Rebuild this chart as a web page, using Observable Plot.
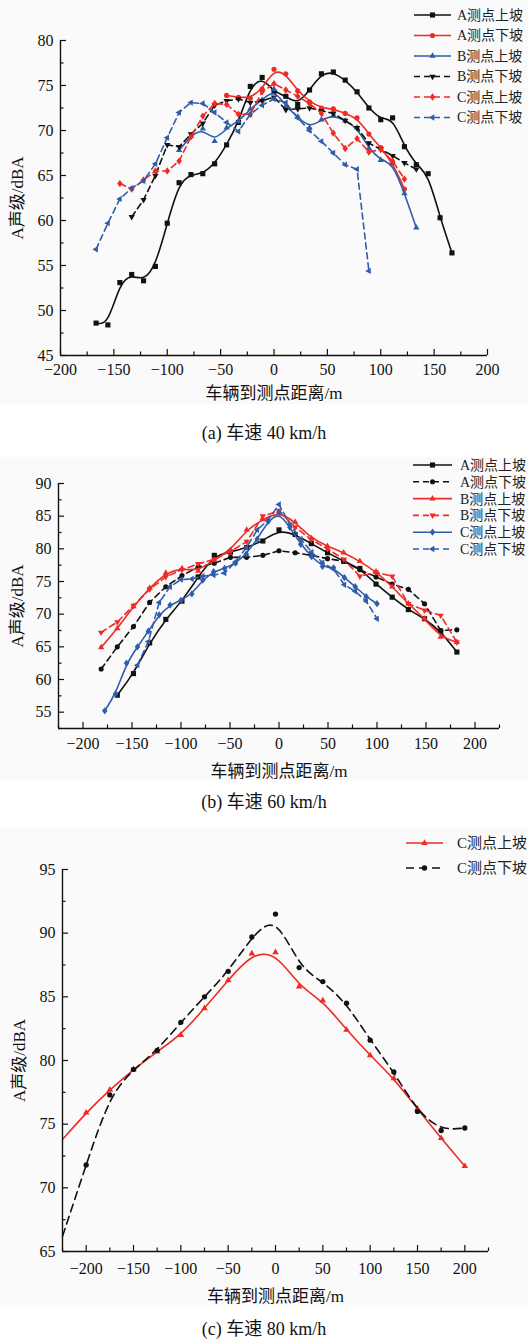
<!DOCTYPE html>
<html><head><meta charset="utf-8">
<script src="https://cdn.jsdelivr.net/npm/d3@7"></script>
<script src="https://cdn.jsdelivr.net/npm/@observablehq/plot@0.6"></script>
<style>
body{margin:0;background:#fff;}
#root{position:relative;width:528px;height:1344px;overflow:hidden;font-family:"Liberation Serif","Noto Sans CJK SC",serif;}
.panel{position:absolute;left:0;}
.cap{position:absolute;left:0;width:528px;text-align:center;font-size:18px;color:#111;line-height:1;}
.leg{position:absolute;left:0;top:0;}
</style></head><body><div id="root"></div>
<script>
// ---------- data: panel (a) 车速 40 km/h ----------
const a_AUp_x = [-166.7,-155.6,-144.4,-133.3,-122.2,-111.1,-100,-88.9,-77.8,-66.7,-55.6,-44.4,-33.3,-22.2,-11.1,0,11.1,22.2,33.3,44.4,55.6,66.7,77.8,88.9,100,111.1,122.2,133.3,144.4,155.6,166.7];
const a_AUp_y = [48.6,48.4,53.1,54.0,53.3,54.9,59.7,64.2,65.1,65.2,66.3,68.4,70.9,74.9,75.9,74.3,73.8,72.9,74.5,76.3,76.5,75.6,74.3,72.5,71.2,71.4,68.2,66.2,65.2,60.3,56.4];
const a_ADn_x = [-44.4,-33.3,-22.2,-11.1,0,11.1,22.2,33.3,44.4,55.6,66.7,77.8,88.9,100,111.1,122.2];
const a_ADn_y = [73.9,73.7,73.6,74.6,76.8,76.3,74.4,73.2,72.5,72.4,71.9,71.4,69.6,68.1,66.4,63.5];
const a_BUp_x = [-88.9,-77.8,-66.7,-55.6,-44.4,-33.3,-22.2,-11.1,0,11.1,22.2,33.3,44.4,55.6,66.7,77.8,88.9,100,111.1,122.2,133.3];
const a_BUp_y = [67.8,69.4,70.2,68.8,70.3,71.0,72.4,73.4,74.6,72.7,71.5,70.3,71.2,71.7,71.1,70.3,68.0,66.7,66.4,63.0,59.2];
const a_BDn_x = [-133.3,-122.2,-111.1,-100,-88.9,-77.8,-66.7,-55.6,-44.4,-33.3,-22.2,-11.1,0,11.1,22.2,33.3,44.4,55.6,66.7,77.8,88.9,100,111.1,122.2,133.3];
const a_BDn_y = [60.4,62.3,65.0,68.4,68.2,69.6,70.8,72.8,73.3,73.5,73.1,73.3,73.7,72.3,72.4,72.5,72.2,71.9,71.1,70.3,68.6,67.9,67.2,66.4,65.7];
const a_CUp_x = [-144.4,-133.3,-122.2,-111.1,-100,-88.9,-77.8,-66.7,-55.6,-44.4,-33.3,-22.2,-11.1,0,11.1,22.2,33.3,44.4,55.6,66.7,77.8,88.9,100,111.1,122.2];
const a_CUp_y = [64.1,63.5,64.5,65.5,65.5,66.6,69.3,71.6,73.0,72.9,71.8,71.8,74.3,75.2,74.5,73.8,73.0,71.9,69.7,68.0,69.1,67.6,67.9,66.6,64.6];
const a_CDn_x = [-166.7,-155.6,-144.4,-133.3,-122.2,-111.1,-100,-88.9,-77.8,-66.7,-55.6,-44.4,-33.3,-22.2,-11.1,0,11.1,22.2,33.3,44.4,55.6,66.7,77.8,88.9];
const a_CDn_y = [56.8,59.7,62.4,63.6,64.4,66.3,69.2,72.0,73.1,73.0,72.0,70.9,69.9,71.8,72.8,73.5,73.1,71.4,70.0,68.8,67.5,66.2,65.7,54.4];

// ---------- data: panel (b) 车速 60 km/h ----------
const b_AUp_x = [-165,-148.5,-132,-115.5,-99,-82.5,-66,-49.5,-33,-16.5,0,16.5,33,49.5,66,82.5,99,115.5,132,148.5,165,181.5];
const b_AUp_y = [57.6,60.9,65.6,69.2,72.0,75.7,79.0,79.5,80.2,81.2,82.9,82.2,80.8,79.4,78.1,77.0,74.6,72.6,70.7,69.3,67.4,64.2];
const b_ADn_x = [-181.5,-165,-148.5,-132,-115.5,-99,-82.5,-66,-49.5,-33,-16.5,0,16.5,33,49.5,66,82.5,99,115.5,132,148.5,165,181.5];
const b_ADn_y = [61.6,65.0,68.1,71.8,74.2,75.9,77.2,77.8,78.7,78.7,79.0,79.7,79.4,79.0,78.5,78.1,76.8,75.7,74.6,73.8,71.6,67.5,67.6];
const b_BUp_x = b_ADn_x;
const b_BUp_y = [64.9,67.8,71.2,74.0,76.3,77.0,76.6,78.3,79.8,82.9,84.5,85.7,84.1,81.6,80.4,79.4,78.1,76.5,74.2,71.6,69.3,66.5,65.7];
const b_BDn_x = b_ADn_x;
const b_BDn_y = [67.2,68.8,71.3,73.8,75.7,76.8,77.7,78.4,79.6,81.1,85.0,85.8,83.3,81.4,80.0,78.4,75.8,76.4,75.8,71.6,70.6,69.8,65.7];
const b_CUp_x = [-177.8,-166.7,-155.6,-144.4,-133.3,-122.2,-111.1,-100,-88.9,-77.8,-66.7,-55.6,-44.4,-33.3,-22.2,-11.1,0,11.1,22.2,33.3,44.4,55.6,66.7,77.8,88.9,100];
const b_CUp_y = [55.2,57.8,62.5,65.0,67.4,69.9,71.4,72.1,73.1,75.2,76.5,77.0,77.8,79.2,81.5,84.2,85.6,83.3,80.7,78.8,77.3,77.1,75.6,74.2,72.7,71.6];
const b_CDn_x = [-144.4,-133.3,-122.2,-111.1,-100,-88.9,-77.8,-66.7,-55.6,-44.4,-33.3,-22.2,-11.1,0,11.1,22.2,33.3,44.4,55.6,66.7,77.8,88.9,100];
const b_CDn_y = [62.2,65.8,71.8,74.2,75.3,75.4,75.8,76.0,76.3,78.0,80.2,82.9,84.4,86.8,83.7,81.5,79.5,77.9,76.9,74.5,73.5,72.0,69.3];

// ---------- data: panel (c) 车速 80 km/h ----------
const c_x = [-225,-200,-175,-150,-125,-100,-75,-50,-25,0,25,50,75,100,125,150,175,200];
const c_CUp_y = [73.8,75.9,77.7,79.3,80.7,82.0,84.1,86.3,88.4,88.5,85.8,84.7,82.4,80.4,78.6,76.2,73.9,71.7];
const c_CDn_y = [66.2,71.8,77.3,79.3,80.8,83.0,85.0,87.0,89.7,91.5,87.3,86.2,84.5,81.6,79.1,76.0,74.5,74.7];

// ---------- labels ----------
const legA = ["A测点上坡","A测点下坡","B测点上坡","B测点下坡","C测点上坡","C测点下坡"];
const legC = ["C测点上坡","C测点下坡"];
const captions = ["(a) 车速 40 km/h","(b) 车速 60 km/h","(c) 车速 80 km/h"];
const xTitle = "车辆到测点距离/m";
const yTitle = "A声级/dBA";

// ---------- styling ----------
const BLACK="#111", RED="#ee2b24", BLUE="#2f5daa";
const triDown = {draw(c, size){const r=Math.sqrt(size/Math.PI)*1.35; c.moveTo(0,r); c.lineTo(-r*0.87,-r*0.5); c.lineTo(r*0.87,-r*0.5); c.closePath();}};
const triLeft = {draw(c, size){const r=Math.sqrt(size/Math.PI)*1.35; c.moveTo(-r,0); c.lineTo(r*0.5,-r*0.87); c.lineTo(r*0.5,r*0.87); c.closePath();}};
const triUp = {draw(c, size){const r=Math.sqrt(size/Math.PI)*1.35; c.moveTo(0,-r); c.lineTo(-r*0.87,r*0.5); c.lineTo(r*0.87,r*0.5); c.closePath();}};
const diamond = {draw(c, size){const r=Math.sqrt(size/Math.PI)*1.35; c.moveTo(0,-r); c.lineTo(r*0.75,0); c.lineTo(0,r); c.lineTo(-r*0.75,0); c.closePath();}};
const square = {draw(c, size){const r=Math.sqrt(size/Math.PI)*0.95; c.rect(-r,-r,2*r,2*r);}};
const circle = {draw(c, size){const r=Math.sqrt(size/Math.PI)*0.95; c.moveTo(r,0); c.arc(0,0,r,0,2*Math.PI);}};

function range(a,b,s){const o=[];for(let v=a;v<=b+1e-9;v+=s)o.push(+v.toFixed(4));return o;}

const root = document.getElementById("root");

function panel(cfg){
  const plotW = 528 - cfg.ml - cfg.mr, plotH = cfg.height - cfg.mt - cfg.mb;
  const marks = [];
  for (const s of cfg.series){
    const pts = s.x.map((x,i)=>({x, y:s.y[i]}));
    marks.push(Plot.line(pts, {x:"x", y:"y", stroke:s.color, strokeWidth:1.6, strokeDasharray:s.dash||null, curve:s.curve}));
    const dots = s.skipFirst ? pts.slice(1) : pts;
    marks.push(Plot.dot(dots, {x:"x", y:"y", fill:s.color, stroke:"none", r:s.r||2.7, symbol:s.symbol}));
  }
  const xMajor = range(-200,200,50);
  const xMinor = range(cfg.xdom[0],cfg.xdom[1],25).filter(v=>v%50!==0);
  const yMajor = range(Math.ceil(cfg.ydom[0]/5)*5, cfg.ydom[1], 5);
  const yMinor = range(cfg.ydom[0], cfg.ydom[1], 2.5).filter(v=>v%5!==0);
  marks.push(
    Plot.ruleX(xMajor, {stroke:BLACK, strokeWidth:1.2, insetTop: plotH-6}),
    Plot.ruleX(xMinor, {stroke:BLACK, strokeWidth:1.2, insetTop: plotH-3.5}),
    Plot.ruleY(yMajor, {stroke:BLACK, strokeWidth:1.2, insetRight: plotW-6}),
    Plot.ruleY(yMinor, {stroke:BLACK, strokeWidth:1.2, insetRight: plotW-3.5}),
    Plot.ruleY([cfg.ydom[0]], {stroke:BLACK, strokeWidth:1.4}),
    Plot.ruleX([cfg.xdom[0]], {stroke:BLACK, strokeWidth:1.4}),
    Plot.axisX({ticks:xMajor, tickSize:0, tickPadding:cfg.xpad, fontSize:16, label:xTitle, labelAnchor:"center", labelOffset:cfg.xlabOff, labelArrow:"none"}),
    Plot.axisY({ticks:yMajor, tickSize:0, tickPadding:7, fontSize:16, label:yTitle, labelAnchor:"center", labelOffset:cfg.ylabOff, labelArrow:"none"})
  );
  const svg = Plot.plot({
    width:528, height:cfg.height,
    marginTop:cfg.mt, marginBottom:cfg.mb, marginLeft:cfg.ml, marginRight:cfg.mr,
    x:{domain:cfg.xdom}, y:{domain:cfg.ydom},
    style:{fontFamily:'"Liberation Serif","Noto Sans CJK SC",serif', fontSize:"16px", background:"#fafafa", color:BLACK, overflow:"visible"},
    marks
  });
  svg.classList.add("panel");
  svg.style.top = cfg.top + "px";
  root.appendChild(svg);
  d3.select(svg).selectAll('g[aria-label="x-axis label"] text, g[aria-label="y-axis label"] text').style("font-size","17px");

  // legend
  const leg = d3.select(root).append("svg").attr("class","leg").attr("width",528).attr("height",1344)
    .style("font-family",'"Liberation Serif","Noto Sans CJK SC",serif');
  cfg.series.forEach((s,i)=>{
    const y = cfg.leg.y0 + i*cfg.leg.dy;
    leg.append("line").attr("x1",cfg.leg.x0).attr("x2",cfg.leg.x1).attr("y1",y).attr("y2",y)
      .attr("stroke",s.color).attr("stroke-width",1.6).attr("stroke-dasharray",s.dash||null);
    const size = Math.PI*(s.r||2.7)**2;
    leg.append("path").attr("d", d3.symbol(s.symbol, size)()).attr("transform",`translate(${(cfg.leg.x0+cfg.leg.x1)/2},${y})`).attr("fill",s.color);
    leg.append("text").attr("x",cfg.leg.tx).attr("y",y).attr("dy","0.35em").attr("font-size",cfg.leg.fs).attr("fill","#222").text(cfg.names[i]);
  });
  const cap = document.createElement("div");
  cap.className="cap"; cap.style.top=(cfg.capY-9)+"px"; cap.textContent=cfg.caption;
  root.appendChild(cap);
}

panel({
  top:0, height:404, mt:40, mb:49, ml:60, mr:41, xdom:[-200,200], ydom:[45,80], xpad:8, xlabOff:43, ylabOff:50,
  caption:captions[0], capY:433, names:legA,
  leg:{x0:414,x1:451,tx:457,y0:15,dy:20.5,fs:14},
  series:[
    {x:a_AUp_x,y:a_AUp_y,color:BLACK,symbol:square,curve:"basis"},
    {x:a_ADn_x,y:a_ADn_y,color:RED,symbol:circle,curve:"basis"},
    {x:a_BUp_x,y:a_BUp_y,color:BLUE,symbol:triUp,curve:"basis"},
    {x:a_BDn_x,y:a_BDn_y,color:BLACK,symbol:triDown,curve:"linear",dash:"6,4"},
    {x:a_CUp_x,y:a_CUp_y,color:RED,symbol:diamond,curve:"linear",dash:"6,4"},
    {x:a_CDn_x,y:a_CDn_y,color:BLUE,symbol:triLeft,curve:"linear",dash:"6,4"}
  ]
});
panel({
  top:457, height:323, mt:26, mb:52, ml:58, mr:29, xdom:[-225,225], ydom:[52.5,90], xpad:9, xlabOff:48, ylabOff:48,
  caption:captions[1], capY:802, names:legA,
  leg:{x0:413,x1:452,tx:460,y0:465,dy:16.8,fs:14},
  series:[
    {x:b_AUp_x,y:b_AUp_y,color:BLACK,symbol:square,curve:"basis"},
    {x:b_ADn_x,y:b_ADn_y,color:BLACK,symbol:circle,curve:"linear",dash:"6,4"},
    {x:b_BUp_x,y:b_BUp_y,color:RED,symbol:triUp,curve:"basis"},
    {x:b_BDn_x,y:b_BDn_y,color:RED,symbol:triDown,curve:"linear",dash:"6,4"},
    {x:b_CUp_x,y:b_CUp_y,color:BLUE,symbol:diamond,curve:"basis"},
    {x:b_CDn_x,y:b_CDn_y,color:BLUE,symbol:triLeft,curve:"linear",dash:"6,4"}
  ]
});
panel({
  top:828, height:479, mt:41, mb:56, ml:62, mr:40, xdom:[-225,225], ydom:[65,95], xpad:11, xlabOff:50, ylabOff:50,
  caption:captions[2], capY:1329, names:legC,
  leg:{x0:406,x1:443,tx:457,y0:843,dy:25,fs:15},
  series:[
    {x:c_x,y:c_CUp_y,color:RED,symbol:triUp,curve:"basis",skipFirst:true,r:2.8},
    {x:c_x,y:c_CDn_y,color:BLACK,symbol:circle,curve:"basis",dash:"8,5",skipFirst:true,r:2.8}
  ]
});
</script></body></html>
